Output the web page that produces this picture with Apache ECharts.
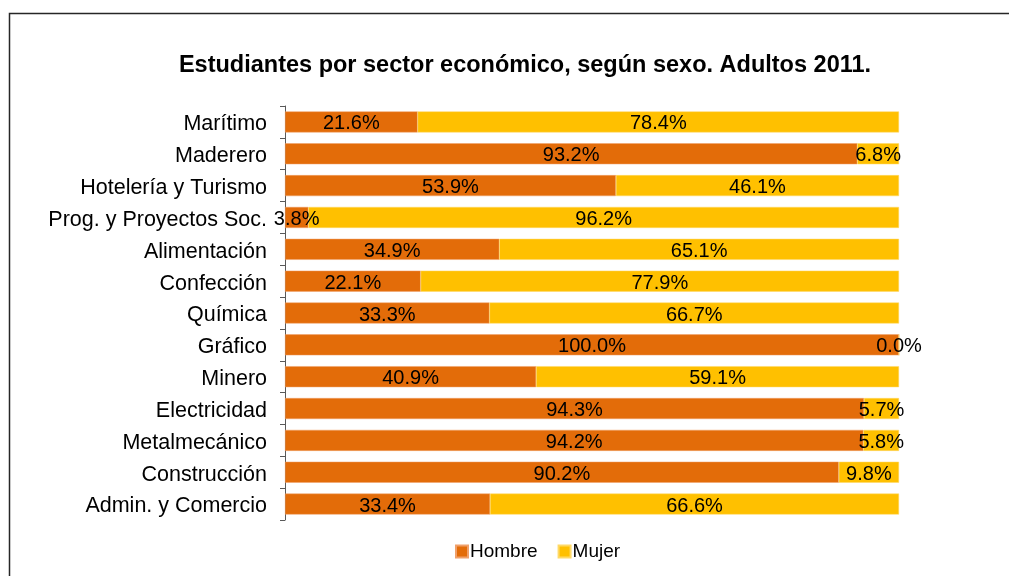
<!DOCTYPE html>
<html>
<head>
<meta charset="utf-8">
<script src="https://cdn.jsdelivr.net/npm/echarts@6/dist/echarts.min.js"></script>
<style>
  html, body { margin: 0; padding: 0; background: #fff; }
  #chart { width: 1009px; height: 576px; }
</style>
</head>
<body>
<div id="chart"></div>
<script>
// Sectors, top to bottom as shown
const sectores = [
  'Marítimo', 'Maderero', 'Hotelería y Turismo', 'Prog. y Proyectos Soc.',
  'Alimentación', 'Confección', 'Química', 'Gráfico', 'Minero',
  'Electricidad', 'Metalmecánico', 'Construcción', 'Admin. y Comercio'
];
// Share of students by sex (%)
const hombre = [21.6, 93.2, 53.9, 3.8, 34.9, 22.1, 33.3, 100.0, 40.9, 94.3, 94.2, 90.2, 33.4];
const mujer  = [78.4, 6.8, 46.1, 96.2, 65.1, 77.9, 66.7, 0.0, 59.1, 5.7, 5.8, 9.8, 66.6];

const FONT = '"Liberation Sans", Arial, sans-serif';
const chart = echarts.init(document.getElementById('chart'), null, { renderer: 'canvas' });

const labelStyle = {
  show: true,
  position: 'inside',
  offset: [0, 2],
  color: '#000',
  fontFamily: FONT,
  fontSize: 20,
  formatter: p => p.value.toFixed(1) + '%'
};

chart.setOption({
  animation: false,
  backgroundColor: '#fff',
  graphic: [{
    type: 'rect',
    shape: { x: 9.5, y: 13.5, width: 1010, height: 600 },
    style: { fill: 'none', stroke: '#262626', lineWidth: 1.5 },
    silent: true
  }],
  title: {
    text: 'Estudiantes por sector económico, según sexo. Adultos 2011.',
    left: 520,
    textAlign: 'center',
    top: 49,
    textStyle: { fontFamily: FONT, fontSize: 23.5, fontWeight: 'bold', color: '#000' }
  },
  legend: {
    top: 537,
    left: 450,
    itemWidth: 12,
    itemHeight: 12,
    itemGap: 20,
    icon: 'rect',
    textStyle: { fontFamily: FONT, fontSize: 19, color: '#000', padding: [0, 0, 0, -3] },
    data: ['Hombre', 'Mujer']
  },
  grid: { left: 285, right: 110, top: 106, bottom: 56, containLabel: false },
  xAxis: {
    type: 'value',
    min: 0,
    max: 100,
    show: false
  },
  yAxis: {
    type: 'category',
    inverse: true,
    data: sectores,
    axisLine: { show: true, lineStyle: { color: '#595959', width: 1 } },
    axisTick: { show: true, length: 5, lineStyle: { color: '#595959' } },
    // sector names sit slightly below the category centre
    axisLabel: {
      fontFamily: FONT, fontSize: 21.5, color: '#000', margin: 18,
      verticalAlign: 'top', lineHeight: 5, padding: 0
    },
    splitLine: { show: false }
  },
  series: [
    {
      name: 'Hombre',
      type: 'bar',
      stack: 'total',
      barWidth: 21,
      data: hombre,
      itemStyle: { color: '#E36C09', borderColor: '#F0A06A', borderWidth: 0.5 },
      label: labelStyle
    },
    {
      name: 'Mujer',
      type: 'bar',
      stack: 'total',
      barWidth: 21,
      data: mujer,
      itemStyle: { color: '#FFC000', borderColor: '#FFD966', borderWidth: 0.5 },
      label: labelStyle
    }
  ]
});
</script>
</body>
</html>
